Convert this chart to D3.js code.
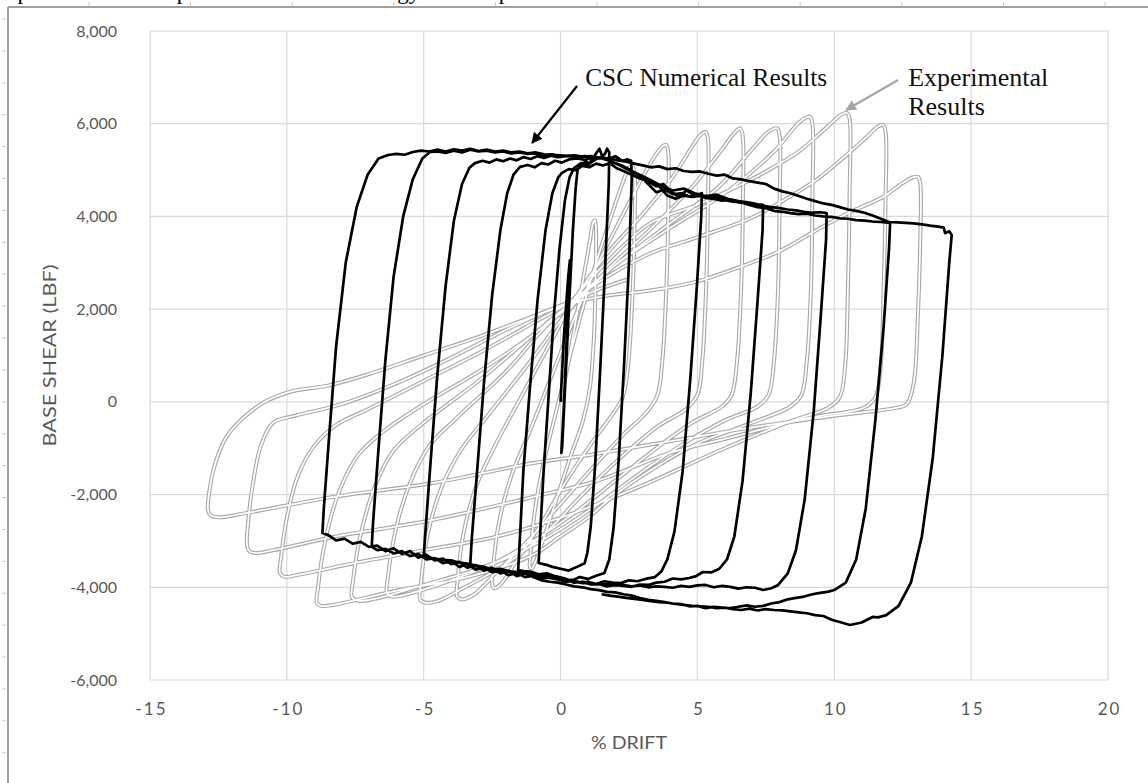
<!DOCTYPE html>
<html>
<head>
<meta charset="utf-8">
<script src="https://cdn.jsdelivr.net/npm/d3@7"></script>
<style>
  html, body { margin: 0; padding: 0; background: #fff; }
  svg { display: block; }
</style>
</head>
<body>
<svg id="chart" width="1148" height="783"></svg>
<script>
// ---- axis ticks ----
const xTicks = [-15, -10, -5, 0, 5, 10, 15, 20];
const xTickLabels = ["-15", "-10", "-5", "0", "5", "10", "15", "20"];
const yTicks = [-6000, -4000, -2000, 0, 2000, 4000, 6000, 8000];
const yTickLabels = ["-6,000", "-4,000", "-2,000", "0", "2,000", "4,000", "6,000", "8,000"];

// ---- CSC numerical results: [% drift, base shear (lbf)] per cycle ----
const cscCycle0 = [[0,0],[0.12,1400],[0.28,2700],[0.34,3050],[0.31,2800],[0.22,1300],[0.12,-100],[0.03,-1100],[0.06,-950],[0.18,500],[0.32,2200],[0.45,3700],[0.55,4600],[0.62,5000],[0.75,5120],[0.9,5180],[1.05,5150],[1.2,5260],[1.32,5380],[1.42,5460],[1.52,5300],[1.62,5350],[1.7,5460],[1.78,5380],
  [1.76,4700],[1.62,2800],[1.44,600],[1.26,-1400],[1.1,-2700],[0.98,-3250],[0.88,-3480],
  [0.6,-3560],[0.3,-3640],[0,-3600],[-0.3,-3560],[-0.55,-3510],[-0.8,-3475]];
const cscCycle1 = [[-0.76,-3000],[-0.62,-1500],[-0.44,100],[-0.24,1900],[-0.04,3300],[0.16,4350],[0.33,4850],[0.5,5050],
  [0.75,5150],[1.0,5120],[1.25,5220],[1.5,5280],[1.75,5240],[2.0,5300],[2.25,5200],[2.45,5230],[2.58,5200],
  [2.6,4800],[2.5,3000],[2.32,800],[2.13,-1200],[1.94,-2700],[1.78,-3400],[1.6,-3690],
  [1.3,-3750],[1.0,-3820],[0.7,-3780],[0.4,-3860],[0.1,-3800],[-0.2,-3760],[-0.5,-3700],[-0.8,-3720],[-1.1,-3660],[-1.35,-3650],[-1.55,-3630]];
const cscCycle2 = [[-1.5,-3100],[-1.36,-1500],[-1.12,300],[-0.84,2200],[-0.55,3700],[-0.3,4500],[-0.08,4850],[0.05,4940],
  [0.3,5020],[0.55,5000],[0.8,5090],[1.05,5060],[1.3,5140],[1.55,5100],[1.8,5150],[2.05,5040],[2.3,4980],[2.6,4900],[2.9,4820],[3.2,4760],[3.5,4650],[3.75,4700],[4.0,4560],[4.3,4420],[4.6,4560],[4.9,4450],[5.16,4500],
  [5.14,4000],[4.98,2500],[4.74,500],[4.46,-1500],[4.16,-2800],[3.9,-3400],[3.68,-3660],[3.45,-3780],
  [3.1,-3820],[2.8,-3870],[2.5,-3850],[2.2,-3910],[1.9,-3900],[1.6,-3870],[1.3,-3930],[1.0,-3880],[0.7,-3900],[0.4,-3840],[0.1,-3860],[-0.2,-3790],[-0.5,-3770],[-0.8,-3730],[-1.1,-3720],[-1.4,-3690],[-1.7,-3700],[-2.0,-3640],[-2.3,-3650],[-2.6,-3600],[-2.9,-3580],[-3.1,-3540],[-3.3,-3520]];
const cscCycle3 = [[-3.25,-3000],[-3.05,-1500],[-2.8,400],[-2.5,2300],[-2.2,3700],[-1.95,4500],[-1.72,4900],[-1.48,5070],
  [-1.2,5110],[-0.95,5060],[-0.7,5150],[-0.45,5120],[-0.2,5200],[0.05,5160],[0.3,5230],[0.6,5250],[0.9,5220],[1.2,5280],[1.5,5250],[1.8,5200],[2.1,5120],[2.5,5000],[2.9,4880],[3.3,4780],[3.7,4650],[4.1,4560],[4.5,4600],[4.9,4500],[5.3,4440],[5.7,4470],[6.1,4380],[6.5,4330],[6.9,4300],[7.2,4260],[7.4,4250],
  [7.38,3700],[7.2,2200],[6.95,200],[6.65,-1700],[6.35,-2900],[6.08,-3400],[5.8,-3600],[5.5,-3680],[5.2,-3670],[4.95,-3760],[4.7,-3800],
  [4.4,-3830],[4.1,-3810],[3.8,-3880],[3.5,-3900],[3.2,-3950],[2.9,-3940],[2.6,-3990],[2.3,-3970],[2.0,-3950],[1.7,-3980],[1.4,-3930],[1.1,-3940],[0.8,-3880],[0.5,-3900],[0.2,-3830],[-0.1,-3800],[-0.4,-3780],[-0.7,-3730],[-1.0,-3760],[-1.3,-3690],[-1.6,-3670],[-1.9,-3650],[-2.2,-3600],[-2.5,-3620],[-2.8,-3560],[-3.1,-3530],[-3.4,-3490],[-3.7,-3470],[-4.0,-3420],[-4.3,-3410],[-4.6,-3380],[-4.8,-3360],[-5.0,-3346]];
const cscCycle4 = [[-4.95,-2900],[-4.75,-1300],[-4.5,600],[-4.2,2500],[-3.9,3900],[-3.6,4700],[-3.33,5050],[-3.13,5150],
  [-2.85,5200],[-2.6,5160],[-2.35,5230],[-2.1,5190],[-1.85,5250],[-1.6,5210],[-1.35,5280],[-1.1,5240],[-0.85,5300],[-0.6,5260],[-0.35,5310],[-0.1,5280],[0.2,5300],[0.5,5320],[0.8,5290],[1.1,5300],[1.4,5260],[1.7,5230],[2.0,5150],[2.3,5080],[2.6,4980],[2.9,4880],[3.2,4700],[3.5,4520],[3.8,4580],[4.1,4480],[4.4,4500],[4.7,4430],[5.0,4460],[5.3,4400],[5.6,4380],[5.9,4340],[6.2,4360],[6.5,4300],[6.8,4280],[7.1,4250],[7.4,4230],[7.7,4200],[8.0,4180],[8.3,4150],[8.6,4130],[8.9,4100],[9.2,4080],[9.5,4090],[9.72,4070],
  [9.7,3500],[9.5,1800],[9.25,-200],[8.92,-2100],[8.6,-3200],[8.3,-3700],[7.95,-3950],[7.7,-4020],[7.4,-4058],
  [7.1,-4010],[6.8,-4000],[6.5,-4030],[6.2,-3990],[5.9,-3970],[5.6,-4000],[5.3,-3950],[5.0,-3960],[4.7,-3990],[4.4,-3970],[4.1,-4010],[3.8,-3990],[3.5,-3980],[3.2,-4000],[2.9,-3960],[2.6,-3980],[2.3,-3950],[2.0,-3960],[1.7,-3930],[1.4,-3940],[1.1,-3900],[0.8,-3910],[0.5,-3870],[0.2,-3880],[-0.1,-3830],[-0.4,-3800],[-0.7,-3790],[-1.0,-3750],[-1.3,-3780],[-1.6,-3690],[-1.9,-3740],[-2.2,-3630],[-2.5,-3680],[-2.8,-3570],[-3.1,-3620],[-3.4,-3500],[-3.7,-3560],[-4.0,-3430],[-4.3,-3480],[-4.6,-3370],[-4.9,-3400],[-5.2,-3280],[-5.5,-3330],[-5.8,-3220],[-6.1,-3270],[-6.4,-3170],[-6.7,-3200],[-6.9,-3130]];
const cscCycle5 = [[-6.85,-2600],[-6.65,-1000],[-6.4,900],[-6.1,2700],[-5.75,4000],[-5.4,4800],[-5.05,5250],[-4.77,5390],
  [-4.5,5400],[-4.2,5370],[-3.9,5420],[-3.6,5380],[-3.3,5440],[-3.0,5400],[-2.7,5420],[-2.4,5380],[-2.1,5400],[-1.8,5360],[-1.5,5380],[-1.2,5350],[-0.9,5360],[-0.6,5320],[-0.3,5340],[0.0,5300],[0.3,5310],[0.6,5290],[0.9,5300],[1.2,5260],[1.5,5250],[1.8,5200],[2.1,5120],[2.4,5050],[2.7,4950],[3.0,4870],[3.3,4780],[3.6,4650],[3.9,4450],[4.2,4380],[4.5,4450],[4.8,4420],[5.1,4440],[5.4,4400],[5.7,4410],[6.0,4350],[6.3,4320],[6.6,4300],[6.9,4250],[7.2,4200],[7.5,4180],[7.8,4120],[8.1,4100],[8.4,4070],[8.7,4050],[9.0,4060],[9.3,4020],[9.6,4000],[9.9,3990],[10.2,3960],[10.5,3950],[10.8,3920],[11.1,3910],[11.4,3890],[11.7,3880],[12.04,3860],
  [12.0,3300],[11.8,1600],[11.5,-400],[11.15,-2300],[10.8,-3400],[10.42,-3900],[10.0,-4060],[9.75,-4100],[9.48,-4120],
  [9.2,-4150],[8.9,-4200],[8.6,-4230],[8.3,-4260],[8.0,-4320],[7.7,-4350],[7.4,-4400],[7.1,-4420],[6.8,-4390],[6.5,-4420],[6.2,-4450],[5.9,-4440],[5.6,-4420],[5.3,-4450],[5.0,-4400],[4.7,-4410],[4.4,-4360],[4.1,-4350],[3.8,-4320],[3.5,-4290],[3.2,-4270],[2.9,-4230],[2.6,-4180],[2.3,-4150],[2.0,-4110],[1.7,-4100],[1.4,-4060],[1.1,-4040],[0.8,-4000],[0.5,-3980],[0.2,-3940],[-0.1,-3900],[-0.4,-3880],[-0.7,-3850],[-1.0,-3780],[-1.3,-3700],[-1.6,-3760],[-1.9,-3640],[-2.2,-3700],[-2.5,-3580],[-2.8,-3640],[-3.1,-3520],[-3.4,-3580],[-3.7,-3450],[-4.0,-3500],[-4.3,-3380],[-4.6,-3420],[-4.9,-3300],[-5.2,-3360],[-5.5,-3220],[-5.8,-3280],[-6.1,-3160],[-6.4,-3220],[-6.7,-3100],[-7.0,-3130],[-7.3,-3020],[-7.6,-3060],[-7.9,-2950],[-8.2,-2990],[-8.5,-2870],[-8.7,-2830]];
const cscCycle6 = [[-8.65,-2300],[-8.45,-700],[-8.2,1200],[-7.85,3000],[-7.45,4200],[-7.05,4900],[-6.65,5250],[-6.3,5325],
  [-6.0,5350],[-5.7,5330],[-5.4,5390],[-5.1,5420],[-4.8,5400],[-4.5,5440],[-4.2,5400],[-3.9,5450],[-3.6,5420],[-3.3,5460],[-3.0,5410],[-2.7,5440],[-2.4,5400],[-2.1,5420],[-1.8,5380],[-1.5,5400],[-1.2,5360],[-0.9,5380],[-0.6,5340],[-0.3,5330],[0.0,5320],[0.3,5300],[0.6,5290],[0.9,5300],[1.2,5280],[1.5,5270],[1.8,5250],[2.1,5210],[2.4,5180],[2.7,5140],[3.0,5100],[3.3,5060],[3.6,5080],[3.9,5020],[4.2,5040],[4.5,4980],[4.8,4960],[5.1,4970],[5.4,4920],[5.7,4880],[6.0,4900],[6.3,4820],[6.6,4800],[6.9,4760],[7.2,4730],[7.5,4700],[7.8,4600],[8.1,4540],[8.4,4500],[8.7,4440],[9.0,4380],[9.3,4330],[9.6,4280],[9.9,4250],[10.2,4200],[10.5,4150],[10.8,4120],[11.1,4080],[11.4,4020],[11.7,3950],[12.0,3880],[12.3,3870],[12.6,3860],[12.9,3850],[13.2,3830],[13.5,3800],[13.8,3780],[14.0,3760],[14.05,3640],[14.2,3680],[14.29,3600],
  [14.2,3000],[13.95,1000],[13.6,-1200],[13.2,-2900],[12.8,-3900],[12.35,-4400],[11.9,-4600],[11.6,-4650],[11.4,-4640],[11.0,-4760],[10.57,-4813],
  [10.2,-4750],[9.9,-4700],[9.6,-4620],[9.3,-4600],[9.0,-4560],[8.7,-4540],[8.4,-4520],[8.1,-4500],[7.8,-4490],[7.5,-4470],[7.2,-4500],[6.9,-4460],[6.6,-4490],[6.3,-4470],[6.0,-4440],[5.7,-4450],[5.4,-4420],[5.1,-4410],[4.8,-4400],[4.5,-4380],[4.2,-4360],[3.9,-4330],[3.6,-4320],[3.3,-4300],[3.0,-4270],[2.7,-4250],[2.4,-4230],[2.1,-4200],[1.8,-4180],[1.5,-4150]];

// ---- Experimental results: [% drift, base shear (lbf)] per cycle ----
const expCycle1 = [[0,0],[0.3,900],[0.6,1900],[0.9,2900],[1.08,3500],[1.18,3850],[1.24,3920],[1.28,3850],[1.28,2700],[1.22,1400],[1.07,300],[0.82,-400],[0.35,-1200],[-0.15,-2100],[-0.62,-2950],[-0.92,-3450],[-1.06,-3600],[-1.12,-3560]];
const expCycle2 = [[-1.1,-3300],[-0.95,-2400],[-0.65,-1400],[-0.2,-300],[0.35,1000],[0.85,2100],[1.35,3100],[1.85,4000],[2.25,4700],[2.5,5050],[2.62,5100],[2.7,4950],[2.7,3700],[2.62,2200],[2.47,800],[2.27,100],[1.92,-250],[1.12,-900],[0.22,-1700],[-0.68,-2600],[-1.58,-3400],[-2.18,-3930],[-2.42,-4020],[-2.5,-3940]];
const expCycle3 = [[-2.47,-3600],[-2.25,-2600],[-1.8,-1600],[-1.1,-600],[-0.3,600],[0.5,1800],[1.3,2900],[2.2,3950],[3.0,4850],[3.5,5350],[3.74,5520],[3.86,5540],[3.93,5400],[3.93,4000],[3.86,2400],[3.72,900],[3.54,150],[3.18,-200],[2.3,-700],[1.2,-1400],[0,-2200],[-1.2,-3000],[-2.3,-3650],[-3.15,-4150],[-3.6,-4260],[-3.78,-4200]];
const expCycle4 = [[-3.76,-3850],[-3.55,-2850],[-3.1,-1850],[-2.4,-950],[-1.4,150],[-0.3,1350],[0.6,2300],[1.7,3200],[3.0,4050],[4.1,4850],[4.8,5500],[5.12,5760],[5.3,5820],[5.38,5680],[5.38,4200],[5.32,2500],[5.18,900],[5.0,150],[4.6,-150],[3.5,-550],[2.2,-1200],[0.8,-2000],[-0.5,-2800],[-2.0,-3500],[-3.5,-4000],[-4.5,-4300],[-4.95,-4330],[-5.13,-4270]];
const expCycle5 = [[-5.1,-3900],[-4.85,-2850],[-4.35,-1850],[-3.65,-1050],[-2.6,-250],[-1.2,800],[0.2,1900],[1.8,2900],[3.5,3850],[4.9,4700],[5.9,5450],[6.35,5800],[6.56,5900],[6.65,5760],[6.66,4300],[6.6,2500],[6.45,900],[6.25,150],[5.9,-100],[4.8,-450],[3.5,-1000],[2.0,-1700],[0.5,-2400],[-1.0,-3000],[-2.5,-3500],[-4.0,-3850],[-5.6,-4150],[-6.15,-4200],[-6.34,-4120]];
const expCycle6 = [[-6.3,-3750],[-6.02,-2750],[-5.5,-1750],[-4.8,-950],[-3.8,-350],[-2.0,650],[-0.5,1650],[0.6,2200],[2.0,2950],[4.0,3850],[5.8,4650],[7.0,5450],[7.6,5830],[7.91,5900],[8.0,5760],[8.0,4300],[7.95,2500],[7.8,900],[7.6,150],[7.2,-100],[6.0,-400],[4.5,-900],[3.0,-1500],[1.5,-2150],[0.0,-2750],[-1.5,-3250],[-3.0,-3600],[-5.0,-3950],[-6.8,-4250],[-7.4,-4290],[-7.62,-4210]];
const expCycle7 = [[-7.58,-3850],[-7.3,-2850],[-6.8,-1850],[-6.1,-1050],[-5.0,-450],[-3.0,450],[-1.0,1450],[0.3,2100],[2.0,2950],[4.0,3750],[6.0,4500],[7.8,5400],[8.7,6020],[9.0,6140],[9.11,6150],[9.2,6000],[9.2,4400],[9.15,2500],[9.0,900],[8.8,150],[8.4,-100],[7.0,-450],[5.0,-900],[3.5,-1400],[2.0,-2000],[1.0,-2500],[0.0,-2900],[-1.0,-3300],[-3.4,-3780],[-5.9,-4060],[-8.3,-4380],[-8.75,-4400],[-8.9,-4340]];
const expCycle8 = [[-8.86,-4000],[-8.6,-3000],[-8.1,-1950],[-7.4,-1150],[-6.5,-650],[-5.0,-50],[-3.0,650],[-1.0,1450],[0.2,2050],[1.5,2900],[3.27,3850],[5.0,4250],[6.3,4600],[7.6,5000],[8.7,5400],[9.5,5800],[9.96,6050],[10.3,6210],[10.47,6230],[10.56,6100],[10.56,4500],[10.5,2500],[10.4,800],[10.2,100],[9.8,-120],[8.5,-400],[6.0,-1000],[3.0,-1800],[0.0,-2500],[-2.4,-2915],[-5.0,-3200],[-7.5,-3475],[-9.5,-3720],[-10.1,-3770],[-10.25,-3690]];
const expCycle9 = [[-10.2,-3300],[-10.0,-2500],[-9.6,-1600],[-9.0,-950],[-8.2,-500],[-7.0,-150],[-5.0,450],[-3.0,1050],[-1.0,1700],[0.2,2100],[1.7,2700],[3.27,3200],[5.0,3550],[6.9,3950],[8.3,4400],[9.37,4800],[10.4,5300],[11.2,5720],[11.6,5940],[11.78,5970],[11.87,5840],[11.87,4300],[11.8,2400],[11.7,800],[11.5,100],[11.1,-120],[9.0,-350],[6.0,-800],[4.0,-1100],[1.4,-1690],[-1.0,-2050],[-4.7,-2550],[-8.3,-2915],[-10.5,-3200],[-11.2,-3260],[-11.4,-3200],[-11.46,-3045]];
const expCycle10 = [[-11.43,-2700],[-11.25,-1800],[-10.95,-950],[-10.5,-450],[-9.7,-300],[-8.0,-50],[-6.0,400],[-4.0,950],[-2.0,1550],[-0.5,1950],[0.5,2150],[1.8,2300],[3.27,2400],[5.0,2600],[6.55,2910],[8.0,3250],[9.37,3710],[10.6,4100],[11.78,4420],[12.5,4720],[12.85,4840],[13.06,4850],[13.14,4720],[13.14,3500],[13.05,1800],[12.9,400],[12.65,-50],[12.25,-130],[10.0,-300],[7.0,-550],[4.0,-850],[1.0,-1150],[-1.0,-1320],[-4.66,-1750],[-8.3,-2050],[-11.5,-2400],[-12.5,-2490],[-12.8,-2440],[-12.88,-2330]];
const expTail = [[-12.85,-2000],[-12.6,-1300],[-12.2,-750],[-11.6,-350],[-10.8,0],[-9.8,230],[-8.5,350],[-7.0,600],[-5.0,1000],[-3.0,1400],[-1.2,1800],[0.3,2150],[1.5,2450],[2.5,2650]];

// ---- annotation anchors in data units ----
const cscLabel = { text: "CSC Numerical Results", at: [0.9, 6814], arrowFrom: [0.6, 6814], arrowTo: [-1.04, 5584] };
const expLabelLines = ["Experimental", "Results"];
const expLabel = { at: [12.7, 6814], lineGap: 626, arrowFrom: [12.33, 6943], arrowTo: [10.43, 6296] };

const W = 1148, H = 783;
const svg = d3.select("#chart");

const x = d3.scaleLinear().domain([-15, 20]).range([150, 1108]);
const y = d3.scaleLinear().domain([-6000, 8000]).range([680, 31]);

const axisFont = "Lato, 'Open Sans', sans-serif";
const axisColor = "#595959";
const serif = "'Liberation Serif', 'Times New Roman', serif";

// page frame with ruler-style ticks
const frame = svg.append("g").attr("class", "frame");
frame.append("line").attr("x1", 8).attr("x2", W).attr("y1", 7).attr("y2", 7)
  .attr("stroke", "#a0a0a0").attr("stroke-width", 2);
frame.append("line").attr("x1", 8).attr("x2", 8).attr("y1", 7).attr("y2", H)
  .attr("stroke", "#a0a0a0").attr("stroke-width", 2);
frame.selectAll("line.tt").data(d3.range(89, W, 101.6)).join("line").attr("class", "tt")
  .attr("x1", d => d).attr("x2", d => d).attr("y1", 2).attr("y2", 6)
  .attr("stroke", "#c8c8c8").attr("stroke-width", 1);
frame.selectAll("line.lt").data(d3.range(19, H, 31.9)).join("line").attr("class", "lt")
  .attr("x1", 2).attr("x2", 6).attr("y1", d => d).attr("y2", d => d)
  .attr("stroke", "#c8c8c8").attr("stroke-width", 1);

// last line of the body text above the chart, mostly hidden by the page edge
svg.append("text").attr("y", -0.8).attr("font-family", serif)
  .attr("font-size", 23).attr("fill", "#000")
  .selectAll("tspan").data([["compared", -22], ["response", 150], ["energy", 358], ["experiment", 477]])
  .join("tspan").attr("x", d => d[1]).text(d => d[0]);

// gridlines
const grid = svg.append("g").attr("class", "grid");
grid.selectAll("line.v").data(xTicks).join("line").attr("class", "v")
  .attr("x1", d => x(d)).attr("x2", d => x(d)).attr("y1", y(8000)).attr("y2", y(-6000))
  .attr("stroke", "#d9d9d9").attr("stroke-width", 1.2);
grid.selectAll("line.h").data(yTicks).join("line").attr("class", "h")
  .attr("x1", x(-15)).attr("x2", x(20)).attr("y1", d => y(d)).attr("y2", d => y(d))
  .attr("stroke", "#d9d9d9").attr("stroke-width", 1.2);

// axes (labels only)
const xAxis = d3.axisBottom(x).tickValues(xTicks).tickSize(0).tickPadding(0)
  .tickFormat((d, i) => xTickLabels[i]);
const gx = svg.append("g").attr("transform", `translate(0,${y(-6000) + 23})`).call(xAxis);
gx.select(".domain").remove();
gx.selectAll("text").attr("font-family", axisFont).attr("font-size", 17).attr("fill", axisColor)
  .attr("letter-spacing", 2).attr("dx", 1);

const yAxis = d3.axisLeft(y).tickValues(yTicks).tickSize(0).tickPadding(0)
  .tickFormat((d, i) => yTickLabels[i]);
const gy = svg.append("g").attr("transform", `translate(${x(-15) - 33},0)`).call(yAxis);
gy.select(".domain").remove();
gy.selectAll("text").attr("font-family", axisFont).attr("font-size", 16).attr("fill", axisColor);

svg.append("text").attr("x", (x(-15) + x(20)) / 2).attr("y", 749).attr("text-anchor", "middle")
  .attr("font-family", axisFont).attr("font-size", 18).attr("fill", axisColor)
  .attr("textLength", 76).attr("lengthAdjust", "spacingAndGlyphs").text("% DRIFT");
svg.append("text").attr("transform", `translate(56,${(y(8000) + y(-6000)) / 2}) rotate(-90)`)
  .attr("text-anchor", "middle").attr("font-family", axisFont).attr("font-size", 18)
  .attr("textLength", 182).attr("lengthAdjust", "spacingAndGlyphs")
  .attr("fill", axisColor).text("BASE SHEAR (LBF)");

// series
const expAll = [].concat(expCycle1, expCycle2, expCycle3, expCycle4, expCycle5, expCycle6, expCycle7, expCycle8, expCycle9, expCycle10, expTail);
const cscAll = [].concat(cscCycle0, cscCycle1, cscCycle2, cscCycle3, cscCycle4, cscCycle5, cscCycle6);

const expLine = d3.line().x(d => x(d[0])).y(d => y(d[1])).curve(d3.curveCatmullRom.alpha(0.5));
const cscLine = d3.line().x(d => x(d[0])).y(d => y(d[1]));

const plot = svg.append("g").attr("class", "series");
// double-line look for the experimental curve: gray outline with a white core
plot.append("path").attr("d", expLine(expAll)).attr("fill", "none")
  .attr("stroke", "#a9a9a9").attr("stroke-width", 4).attr("stroke-linejoin", "round");
plot.append("path").attr("d", expLine(expAll)).attr("fill", "none")
  .attr("stroke", "#ffffff").attr("stroke-width", 1.7).attr("stroke-linejoin", "round");
plot.append("path").attr("d", cscLine(cscAll)).attr("fill", "none")
  .attr("stroke", "#000").attr("stroke-width", 2.7).attr("stroke-linejoin", "round");

// annotations
const defs = svg.append("defs");
function arrowMarker(id, color) {
  defs.append("marker").attr("id", id).attr("viewBox", "0 0 10 10").attr("refX", 9).attr("refY", 5)
    .attr("markerWidth", 5).attr("markerHeight", 5).attr("orient", "auto")
    .append("path").attr("d", "M0,0 L10,5 L0,10 z").attr("fill", color);
}
arrowMarker("arrowBlack", "#000");
arrowMarker("arrowGray", "#a6a6a6");

const ann = svg.append("g").attr("class", "annotations");
ann.append("line").attr("x1", x(cscLabel.arrowFrom[0])).attr("y1", y(cscLabel.arrowFrom[1]))
  .attr("x2", x(cscLabel.arrowTo[0])).attr("y2", y(cscLabel.arrowTo[1]))
  .attr("stroke", "#000").attr("stroke-width", 2.2).attr("marker-end", "url(#arrowBlack)");
ann.append("text").attr("x", x(cscLabel.at[0])).attr("y", y(cscLabel.at[1]))
  .attr("font-family", serif).attr("font-size", 25)
  .attr("textLength", 242).attr("lengthAdjust", "spacingAndGlyphs")
  .attr("fill", "#111").text(cscLabel.text);

ann.append("line").attr("x1", x(expLabel.arrowFrom[0])).attr("y1", y(expLabel.arrowFrom[1]))
  .attr("x2", x(expLabel.arrowTo[0])).attr("y2", y(expLabel.arrowTo[1]))
  .attr("stroke", "#a6a6a6").attr("stroke-width", 2.2).attr("marker-end", "url(#arrowGray)");
ann.selectAll("text.exp").data(expLabelLines).join("text").attr("class", "exp")
  .attr("x", x(expLabel.at[0])).attr("y", (d, i) => y(expLabel.at[1] - i * expLabel.lineGap))
  .attr("font-family", serif).attr("font-size", 26)
  .attr("fill", "#111").text(d => d);
</script>
</body>
</html>
